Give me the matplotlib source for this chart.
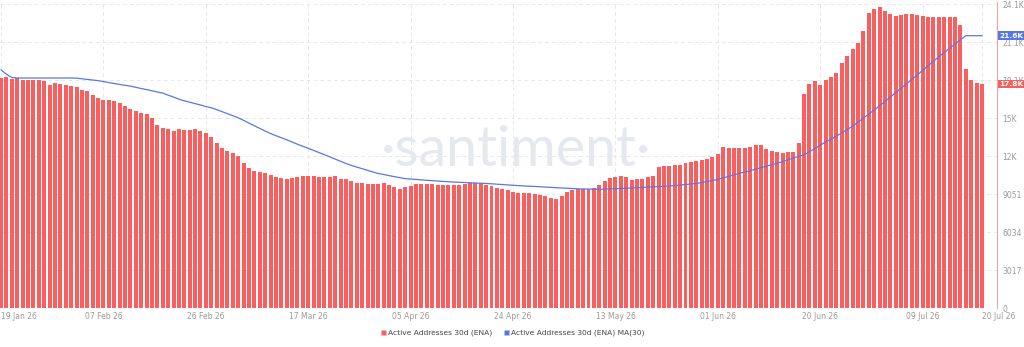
import matplotlib
matplotlib.use("Agg")
import matplotlib.pyplot as plt
import matplotlib.dates as mdates
from matplotlib.lines import Line2D
import numpy as np
import pandas as pd

start_date = "2026-01-19"
end_date = "2026-07-20"

active_addresses = [
    18238, 18318, 18183, 18262, 18103, 18103, 18103, 18103, 18000, 17730,
    17841, 17786, 17682, 17627, 17524, 17309, 17254, 16888, 16674, 16515,
    16515, 16460, 16253, 16039, 15824, 15618, 15507, 15404, 15086, 14554,
    14292, 14189, 14078, 14213, 14133, 14133, 14189, 14030, 13871, 13601,
    13125, 12704, 12490, 12331, 12069, 11537, 11092, 10902, 10798, 10695,
    10584, 10425, 10322, 10219, 10322, 10425, 10457, 10457, 10457, 10425,
    10425, 10425, 10505, 10266, 10219, 10060, 9901, 9901, 9846, 9846,
    9846, 9901, 9742, 9631, 9472, 9631, 9687, 9846, 9846, 9846,
    9846, 9742, 9742, 9790, 9790, 9742, 9846, 9901, 9901, 9949,
    9790, 9687, 9528, 9425, 9369, 9210, 9155, 9155, 9107, 9052,
    8996, 8893, 8734, 8678, 8893, 9210, 9369, 9425, 9425, 9472,
    9528, 9790, 10108, 10322, 10425, 10481, 10378, 10163, 10219, 10266,
    10378, 10481, 11172, 11275, 11275, 11330, 11378, 11489, 11592, 11696,
    11751, 11854, 11966, 12228, 12760, 12704, 12704, 12704, 12704, 12760,
    12918, 12918, 12648, 12490, 12386, 12331, 12386, 12386, 13077, 16992,
    17786, 18048, 17730, 18103, 18318, 18683, 19429, 20009, 20541, 21017,
    22018, 23447, 23764, 23923, 23558, 23344, 23185, 23240, 23320, 23320,
    23240, 23185, 23129, 23129, 23129, 23129, 23129, 23082, 22494, 18953,
    18103, 17841, 17786,
]

ma30 = [
    18900, 18560, 18300, 18260, 18260, 18260, 18260, 18260, 18260, 18260,
    18260, 18260, 18260, 18260, 18250, 18200, 18150, 18100, 18050, 17980,
    17900, 17820, 17750, 17680, 17620, 17520, 17430, 17340, 17250, 17150,
    17060, 16900, 16750, 16580, 16450, 16340, 16230, 16120, 16000, 15900,
    15750, 15590, 15430, 15270, 15100, 14900, 14680, 14470, 14260, 14050,
    13850, 13680, 13520, 13350, 13180, 13000, 12840, 12680, 12510, 12340,
    12170, 12000, 11820, 11650, 11470, 11320, 11190, 11060, 10930, 10800,
    10680, 10600, 10510, 10430, 10350, 10270, 10240, 10210, 10170, 10140,
    10110, 10080, 10050, 10030, 10000, 9980, 9960, 9940, 9920, 9905,
    9890, 9860, 9830, 9800, 9770, 9740, 9715, 9690, 9670, 9650,
    9630, 9600, 9580, 9550, 9530, 9510, 9490, 9460, 9450, 9440,
    9430, 9425, 9440, 9450, 9470, 9490, 9510, 9530, 9550, 9580,
    9600, 9620, 9640, 9660, 9690, 9720, 9760, 9800, 9850, 9890,
    9960, 10040, 10120, 10210, 10330, 10450, 10570, 10690, 10810, 10900,
    11020, 11140, 11260, 11380, 11490, 11630, 11770, 11910, 12050, 12150,
    12400, 12660, 12920, 13200, 13390, 13650, 13910, 14170, 14430, 14750,
    15070, 15400, 15720, 16040, 16390, 16740, 17100, 17450, 17800, 18150,
    18500, 18870, 19230, 19590, 19950, 20290, 20620, 20960, 21290, 21620,
    21620, 21620, 21620,
]

tick_dates = ["2026-01-19", "2026-02-07", "2026-02-26", "2026-03-17", "2026-04-05",
              "2026-04-24", "2026-05-13", "2026-06-01", "2026-06-20", "2026-07-09",
              "2026-07-20"]
tick_labels = ["19 Jan 26", "07 Feb 26", "26 Feb 26", "17 Mar 26", "05 Apr 26",
               "24 Apr 26", "13 May 26", "01 Jun 26", "20 Jun 26", "09 Jul 26",
               "20 Jul 26"]
y_ticks = [0, 3017, 6034, 9051, 12068, 15085, 18102, 21119, 24136]
y_tick_labels = ["0", "3017", "6034", "9051", "12K", "15K", "18.1K", "21.1K", "24.1K"]

bar_label = "Active Addresses 30d (ENA)"
ma_label = "Active Addresses 30d (ENA) MA(30)"

dates = pd.date_range(start_date, end_date, freq="D")
x = mdates.date2num(dates)

BAR_COLOR = "#f95f5f"
MA_COLOR = "#5777e6"
GRID_COLOR = "#e8e8e8"
TXT_COLOR = "#9a9a9a"

W, H = 1024, 347
fig = plt.figure(figsize=(W / 100, H / 100), dpi=100)
ax = fig.add_axes([0, 1 - 308 / H, 997 / W, 306 / H])

ax.bar(x, active_addresses, width=0.74, color=BAR_COLOR, zorder=2, linewidth=0)
ax.plot(x, ma30, color=MA_COLOR, linewidth=0.9, zorder=3)

ax.set_xlim(x[0] - 0.2, x[-1] + 2.8)
ax.set_ylim(0, 24136 + 160)

# watermark
fig.text(516 / W, 1 - 150 / H, "\u00b7santiment\u00b7", fontsize=40, color="#e6e8ef",
         ha="center", va="center", family="Lato", fontweight="normal", zorder=0)

for s in ["top", "left", "bottom"]:
    ax.spines[s].set_visible(False)
ax.spines["right"].set_color("#f2a3a3")
ax.spines["right"].set_linewidth(0.8)

ax.yaxis.tick_right()
ax.set_yticks(y_ticks)
ax.set_yticklabels(y_tick_labels)
ax.tick_params(axis="y", length=0, pad=4, labelsize=5.5, labelcolor=TXT_COLOR)

tx = mdates.date2num(pd.to_datetime(tick_dates))
ax.set_xticks(tx)
ax.set_xticklabels(tick_labels)
ax.tick_params(axis="x", length=0, pad=3, labelsize=5.5, labelcolor=TXT_COLOR)
xl = ax.get_xticklabels()
xl[0].set_horizontalalignment("left")
xl[-1].set_horizontalalignment("left")

ax.grid(True, color=GRID_COLOR, linestyle=(0, (4, 3)), linewidth=0.7, zorder=0)
ax.set_axisbelow(True)

# value tags on right axis
tr = ax.get_yaxis_transform()
for val, col in [(ma30[-1], MA_COLOR), (active_addresses[-1], BAR_COLOR)]:
    ax.text(1.0025, val, f"{val/1000:.1f}K", transform=tr, fontsize=5.3, color="white",
            ha="left", va="center", fontweight="bold", clip_on=False, zorder=5,
            bbox=dict(boxstyle="square,pad=0.2", fc=col, ec="none"))

handles = [Line2D([0], [0], marker="s", linestyle="none", markersize=3.6,
                  markerfacecolor=BAR_COLOR, markeredgecolor="none"),
           Line2D([0], [0], marker="s", linestyle="none", markersize=3.6,
                  markerfacecolor=MA_COLOR, markeredgecolor="none")]
fig.legend(handles, [bar_label, ma_label], loc="center", bbox_to_anchor=(512 / W, 1 - 333 / H),
           ncol=2, frameon=False, fontsize=5.4, handletextpad=0.1, columnspacing=1.4,
           labelcolor="#444444", handlelength=1.0)

fig.savefig("out.png", dpi=100)
